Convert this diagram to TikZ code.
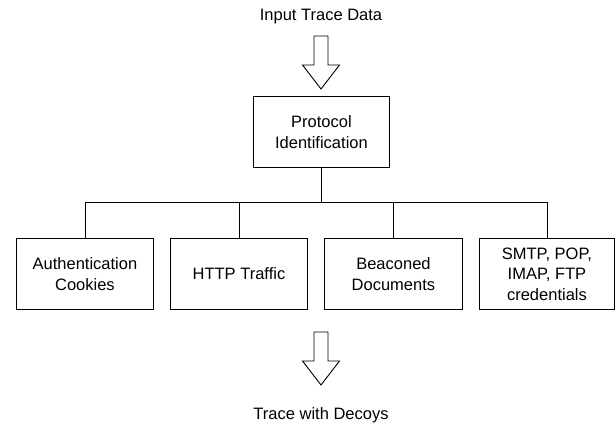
\documentclass[tikz,border=0pt]{standalone}
\usepackage{fontspec}
\setmainfont{Liberation Sans}
\begin{document}
\begin{tikzpicture}[x=1pt,y=-1pt,
  every node/.style={font=\fontsize{16.5}{20.5}\selectfont},
  boxnode/.style={draw, line width=0.9pt, inner sep=0pt, align=center, anchor=north west},
  blockarrow/.style={draw, line width=0.9pt, fill=white},
  link/.style={draw, line width=0.9pt}]
\useasboundingbox (0,0) rectangle (615,427);
% title texts
\node[inner sep=0pt, anchor=base] (in) at (321,20.5) {Input Trace Data};
\node[inner sep=0pt, anchor=base] (out) at (321,419) {Trace with Decoys};
% boxes
\node[boxnode, minimum width=136pt, minimum height=71pt] (p) at (253,96) {Protocol\\Identification};
\node[boxnode, minimum width=137pt, minimum height=71pt] (b1) at (16,238) {Authentication\\Cookies};
\node[boxnode, minimum width=137pt, minimum height=71pt] (b2) at (170,238) {HTTP Traffic};
\node[boxnode, minimum width=138pt, minimum height=71pt] (b3) at (324,238) {Beaconed\\Documents};
\node[boxnode, minimum width=135pt, minimum height=71pt] (b4) at (479,238) {SMTP, POP,\\IMAP, FTP\\credentials};
% block arrows
\coordinate (a1) at (321,36);
\coordinate (a2) at (321,332);
\foreach \c in {a1,a2}{
  \path[blockarrow] ([xshift=-7pt]\c) -- ([xshift=7pt]\c) -- ([xshift=7pt,yshift=-29pt]\c)
    -- ([xshift=18.5pt,yshift=-29pt]\c) -- ([yshift=-53pt]\c) -- ([xshift=-18.5pt,yshift=-29pt]\c)
    -- ([xshift=-7pt,yshift=-29pt]\c) -- cycle;
}
% tree connectors
\coordinate (bus) at (322,202);
\path[link] (p.south) -- (p.south |- bus);
\path[link] (b1.north) -- (b1.north |- bus) -- (b4.north |- bus) -- (b4.north);
\path[link] (b2.north) -- (b2.north |- bus);
\path[link] (b3.north) -- (b3.north |- bus);
\end{tikzpicture}
\end{document}
